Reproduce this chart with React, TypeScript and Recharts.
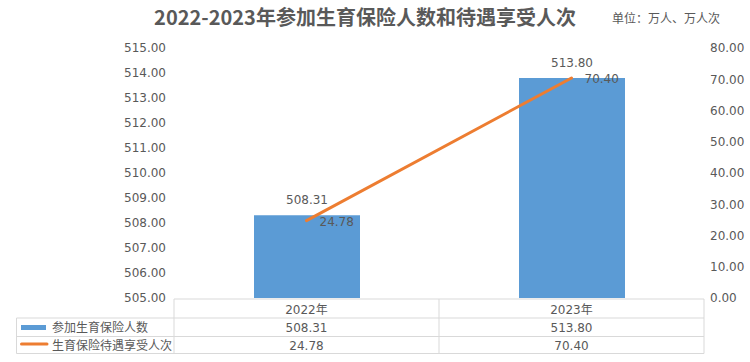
import React from 'react';
import { ComposedChart, Bar, Line, XAxis, YAxis, LabelList } from 'recharts';

const categories = ['2022年', '2023年'];
const insuredValues = [508.31, 513.8];
const beneficiaryValues = [24.78, 70.4];
const leftTicks = [505, 506, 507, 508, 509, 510, 511, 512, 513, 514, 515];
const rightTicks = [0, 10, 20, 30, 40, 50, 60, 70, 80];
const seriesNames = ['参加生育保险人数', '生育保险待遇享受人次'];
const title = '2022-2023年参加生育保险人数和待遇享受人次';
const unitText = '单位：万人、万人次';

const data = categories.map((c, i) => ({
  name: c,
  insured: insuredValues[i],
  beneficiary: beneficiaryValues[i],
}));

const FONT = "'DejaVu Sans', 'Noto Sans CJK SC', sans-serif";
const TXT = '#595959';
const BLUE = '#5b9bd5';
const ORANGE = '#ed7d31';
const GRID = '#d9d9d9';

const PLOT_L = 174;
const PLOT_R = 704;
const ROWS = [299, 318, 336.5, 353.5];

const BarLabel = (props: any) => {
  const { x, y, width, value } = props;
  return (
    <text x={x + width / 2} y={y - 15} textAnchor="middle" dominantBaseline="central" fontFamily={FONT} fontSize={12} fill={TXT}>
      {Number(value).toFixed(2)}
    </text>
  );
};

const LineLabel = (props: any) => {
  const { x, y, value } = props;
  return (
    <text x={x + 13} y={y + 1} textAnchor="start" dominantBaseline="central" fontFamily={FONT} fontSize={12} fill={TXT}>
      {Number(value).toFixed(2)}
    </text>
  );
};

const Table = () => {
  const colW = (PLOT_R - PLOT_L) / categories.length;
  const rows = [insuredValues, beneficiaryValues];
  return (
    <svg width={750} height={362} style={{ position: 'absolute', left: 0, top: 0, pointerEvents: 'none' }}>
      <line x1={PLOT_L} x2={PLOT_R} y1={ROWS[0]} y2={ROWS[0]} stroke={GRID} />
      <line x1={16.5} x2={PLOT_R} y1={ROWS[1]} y2={ROWS[1]} stroke={GRID} />
      <line x1={16.5} x2={PLOT_R} y1={ROWS[2]} y2={ROWS[2]} stroke={GRID} />
      <line x1={16.5} x2={PLOT_R} y1={ROWS[3]} y2={ROWS[3]} stroke={GRID} />
      <line x1={16.5} x2={16.5} y1={ROWS[1]} y2={ROWS[3]} stroke={GRID} />
      {[0, 1, 2].map((k) => (
        <line key={k} x1={PLOT_L + k * colW} x2={PLOT_L + k * colW} y1={ROWS[0]} y2={ROWS[3]} stroke={GRID} />
      ))}
      {categories.map((c, i) => (
        <text key={c} x={PLOT_L + (i + 0.5) * colW} y={(ROWS[0] + ROWS[1]) / 2 + 1} textAnchor="middle" dominantBaseline="central" fontFamily={FONT} fontSize={12} fill={TXT}>
          {c}
        </text>
      ))}
      {rows.map((vals, r) =>
        vals.map((v, i) => (
          <text key={`${r}-${i}`} x={PLOT_L + (i + 0.5) * colW} y={(ROWS[r + 1] + ROWS[r + 2]) / 2 + 1} textAnchor="middle" dominantBaseline="central" fontFamily={FONT} fontSize={12} fill={TXT}>
            {v.toFixed(2)}
          </text>
        ))
      )}
      <rect x={21} y={325} width={25} height={5} fill={BLUE} />
      <line x1={21.5} x2={47} y1={344} y2={344} stroke={ORANGE} strokeWidth={3} strokeLinecap="round" />
      {seriesNames.map((n, r) => (
        <text key={n} x={52} y={(ROWS[r + 1] + ROWS[r + 2]) / 2 + 1} textAnchor="start" dominantBaseline="central" fontFamily={FONT} fontSize={12} fill={TXT}>
          {n}
        </text>
      ))}
    </svg>
  );
};

export default function App() {
  return (
    <div style={{ position: 'absolute', left: 0, top: 0, width: 750, height: 362, background: '#fff' }}>
      <ComposedChart
        width={750}
        height={362}
        data={data}
        margin={{ top: 48, right: 0, bottom: 64, left: 0 }}
        barCategoryGap="30%"
      >
        <XAxis dataKey="name" hide />
        <YAxis
          yAxisId="left"
          orientation="left"
          width={PLOT_L}
          domain={[505, 515]}
          ticks={leftTicks}
          tickFormatter={(v: number) => v.toFixed(2)}
          axisLine={false}
          tickLine={false}
          tick={{ fill: TXT, fontSize: 12, fontFamily: FONT }}
          interval={0}
          allowDataOverflow
        />
        <YAxis
          yAxisId="right"
          orientation="right"
          width={750 - PLOT_R}
          domain={[0, 80]}
          ticks={rightTicks}
          tickFormatter={(v: number) => v.toFixed(2)}
          axisLine={false}
          tickLine={false}
          tickSize={4}
          tick={{ fill: TXT, fontSize: 12, fontFamily: FONT, textAnchor: 'start' }}
          interval={0}
        />
        <Bar yAxisId="left" dataKey="insured" fill={BLUE} barSize={106} isAnimationActive={false}>
          <LabelList dataKey="insured" content={BarLabel} />
        </Bar>
        <Line
          yAxisId="right"
          dataKey="beneficiary"
          stroke={ORANGE}
          strokeWidth={3}
          dot={false}
          activeDot={false}
          strokeLinecap="round"
          isAnimationActive={false}
        >
          <LabelList dataKey="beneficiary" content={LineLabel} />
        </Line>
      </ComposedChart>
      <Table />
      <div
        style={{
          position: 'absolute',
          left: 0,
          top: 4,
          width: 730,
          textAlign: 'center',
          fontFamily: "'Noto Sans CJK SC', sans-serif",
          fontWeight: 'bold',
          fontSize: 20,
          color: TXT,
          lineHeight: '26px',
          whiteSpace: 'nowrap',
        }}
      >
        {title}
      </div>
      <div
        style={{
          position: 'absolute',
          left: 612,
          top: 10,
          fontFamily: "'Noto Sans CJK SC', sans-serif",
          fontSize: 12,
          color: TXT,
          lineHeight: '16px',
          whiteSpace: 'nowrap',
        }}
      >
        {unitText}
      </div>
    </div>
  );
}
